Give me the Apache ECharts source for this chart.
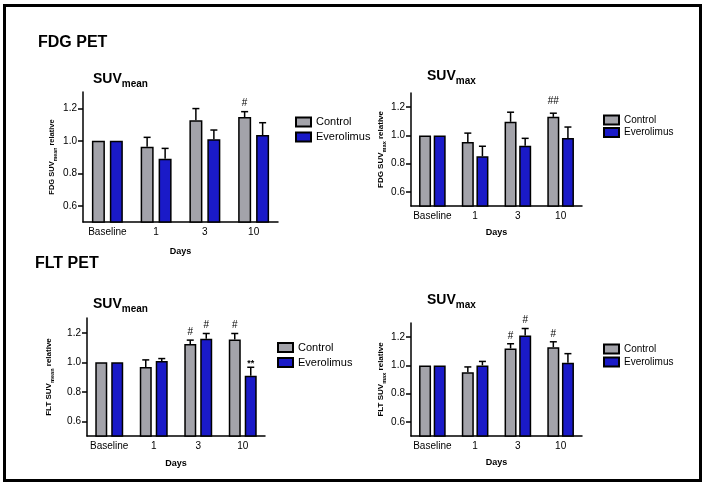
<!DOCTYPE html>
<html>
<head>
<meta charset="utf-8">
<script src="https://cdn.jsdelivr.net/npm/echarts@6/dist/echarts.min.js"></script>
<style>
html,body{margin:0;padding:0;background:#fff;}
#chart{width:707px;height:486px;}
</style>
</head>
<body>
<div id="chart"></div>
<script>
// ---- data ----
const categories = ['Baseline', '1', '3', '10'];
const yTicks = [0.6, 0.8, 1.0, 1.2];

// FDG PET SUVmean
const fdgMeanControl = [1.0, 0.963, 1.126, 1.146];
const fdgMeanControlErr = [0, 0.058, 0.072, 0.033];
const fdgMeanControlSig = ['', '', '', '#'];
const fdgMeanEvero = [1.0, 0.889, 1.010, 1.035];
const fdgMeanEveroErr = [0, 0.064, 0.056, 0.076];
const fdgMeanEveroSig = ['', '', '', ''];

// FDG PET SUVmax
const fdgMaxControl = [1.0, 0.953, 1.096, 1.131];
const fdgMaxControlErr = [0, 0.063, 0.068, 0.026];
const fdgMaxControlSig = ['', '', '', '##'];
const fdgMaxEvero = [1.0, 0.852, 0.927, 0.981];
const fdgMaxEveroErr = [0, 0.071, 0.052, 0.078];
const fdgMaxEveroSig = ['', '', '', ''];

// FLT PET SUVmean
const fltMeanControl = [1.0, 0.968, 1.123, 1.155];
const fltMeanControlErr = [0, 0.048, 0.027, 0.040];
const fltMeanControlSig = ['', '', '#', '#'];
const fltMeanEvero = [1.0, 1.009, 1.159, 0.909];
const fltMeanEveroErr = [0, 0.016, 0.036, 0.057];
const fltMeanEveroSig = ['', '', '#', '**'];

// FLT PET SUVmax
const fltMaxControl = [1.0, 0.951, 1.120, 1.129];
const fltMaxControlErr = [0, 0.038, 0.033, 0.038];
const fltMaxControlSig = ['', '', '#', '#'];
const fltMaxEvero = [1.0, 1.000, 1.212, 1.019];
const fltMaxEveroErr = [0, 0.028, 0.049, 0.064];
const fltMaxEveroSig = ['', '', '#', ''];

// ---- styles ----
const FONT = '"Liberation Sans", Arial, Helvetica, sans-serif';
const GREY = '#a3a3aa';
const BLUE = '#1a1ac8';

const panels = [
  { grid: {left: 83, top: 92, width: 195, height: 130}, yName: '{a|FDG SUV}{b|mean}{a| relative}', yNameSize: 7.5, yNameGap: 25, xNameGap: 25,
    ctrl: fdgMeanControl, ctrlErr: fdgMeanControlErr, ctrlSig: fdgMeanControlSig,
    ev: fdgMeanEvero, evErr: fdgMeanEveroErr, evSig: fdgMeanEveroSig,
    barWidth: 13, barGap: '38%', off: 9, sigGap: 3,
    legend: {left: 295, top: 115, font: 11, lh: 14, gap: 1} },
  { grid: {left: 411, top: 93, width: 171, height: 113}, yName: '{a|FDG SUV}{b|max}{a| relative}', yNameSize: 8, yNameGap: 24, xNameGap: 22,
    ctrl: fdgMaxControl, ctrlErr: fdgMaxControlErr, ctrlSig: fdgMaxControlSig,
    ev: fdgMaxEvero, evErr: fdgMaxEveroErr, evSig: fdgMaxEveroSig,
    barWidth: 12, barGap: '22%', off: 7.3, sigGap: 7,
    legend: {left: 603, top: 114, font: 10, lh: 12, gap: 0.5} },
  { grid: {left: 87, top: 318, width: 178, height: 118}, yName: '{a|FLT SUV}{b|mean}{a| relative}', yNameSize: 8, yNameGap: 32, xNameGap: 23,
    ctrl: fltMeanControl, ctrlErr: fltMeanControlErr, ctrlSig: fltMeanControlSig,
    ev: fltMeanEvero, evErr: fltMeanEveroErr, evSig: fltMeanEveroSig,
    barWidth: 12, barGap: '33%', off: 8, sigGap: 3,
    legend: {left: 277, top: 340.5, font: 11, lh: 14, gap: 1} },
  { grid: {left: 411, top: 323, width: 171, height: 113}, yName: '{a|FLT SUV}{b|max}{a| relative}', yNameSize: 8, yNameGap: 23, xNameGap: 22,
    ctrl: fltMaxControl, ctrlErr: fltMaxControlErr, ctrlSig: fltMaxControlSig,
    ev: fltMaxEvero, evErr: fltMaxEveroErr, evSig: fltMaxEveroSig,
    barWidth: 12, barGap: '22%', off: 7.3, sigGap: 3,
    legend: {left: 603, top: 343, font: 10, lh: 12, gap: 1} }
];

function errRenderer(values, errs, sigs, offset, sigGap) {
  return function (params, api) {
    const i = params.dataIndex;
    const base = api.coord([i, values[i]]);
    const top = api.coord([i, values[i] + errs[i]]);
    const x = base[0] + offset;
    const children = [];
    if (errs[i] > 0) {
      children.push({type: 'line', shape: {x1: x, y1: base[1], x2: x, y2: top[1]}, style: {stroke: '#000', lineWidth: 1.5}});
      children.push({type: 'line', shape: {x1: x - 3.5, y1: top[1], x2: x + 3.5, y2: top[1]}, style: {stroke: '#000', lineWidth: 1.5}});
    }
    if (sigs[i]) {
      const star = sigs[i] === '**';
      children.push({type: 'text', style: {x: x, y: top[1] - (star ? -1 : sigGap), text: sigs[i], fill: '#000',
        font: (star ? 'bold 9px ' : '10px ') + FONT, align: 'center', verticalAlign: 'bottom'}});
    }
    return {type: 'group', children: children};
  };
}

const grid = [], xAxis = [], yAxis = [], series = [], legend = [];
panels.forEach((p, k) => {
  grid.push(Object.assign({containLabel: false, outerBoundsMode: 'none'}, p.grid));
  xAxis.push({
    type: 'category', gridIndex: k, data: categories,
    axisLine: {lineStyle: {color: '#000', width: 1.5}},
    axisTick: {alignWithLabel: true, length: 5, lineStyle: {color: '#000', width: 1.5}},
    axisLabel: {color: '#000', fontSize: 10, fontFamily: FONT, margin: 5, interval: 0, hideOverlap: false},
    name: 'Days', nameLocation: 'middle', nameGap: p.xNameGap,
    nameTextStyle: {color: '#000', fontSize: 9, fontWeight: 'bold', fontFamily: FONT}
  });
  yAxis.push({
    type: 'value', gridIndex: k, min: 0.5, max: 1.3,
    splitLine: {show: false},
    axisLine: {show: true, lineStyle: {color: '#000', width: 1.5}},
    axisTick: {show: true, length: 5, customValues: yTicks, lineStyle: {color: '#000', width: 1.5}},
    axisLabel: {customValues: yTicks, color: '#000', fontSize: 10, fontFamily: FONT, margin: 6,
      formatter: v => v.toFixed(1)},
    name: p.yName, nameLocation: 'middle', nameRotate: 90, nameGap: p.yNameGap,
    nameTextStyle: {color: '#000', fontFamily: FONT,
      rich: {
        a: {fontSize: p.yNameSize, fontWeight: 'bold', fontFamily: FONT, color: '#000', lineHeight: 12},
        b: {fontSize: p.yNameSize * 0.7, fontWeight: 'bold', fontFamily: FONT, color: '#000', lineHeight: 5, verticalAlign: 'bottom'}
      }}
  });
  series.push({
    type: 'bar', name: 'Control', xAxisIndex: k, yAxisIndex: k, data: p.ctrl,
    barWidth: p.barWidth, barGap: p.barGap,
    itemStyle: {color: GREY, borderColor: '#000', borderWidth: 1.5}, z: 2
  });
  series.push({
    type: 'bar', name: 'Everolimus', xAxisIndex: k, yAxisIndex: k, data: p.ev,
    barWidth: p.barWidth, barGap: p.barGap,
    itemStyle: {color: BLUE, borderColor: '#000', borderWidth: 1.5}, z: 2
  });
  series.push({
    type: 'custom', name: 'ctrlErr' + k, xAxisIndex: k, yAxisIndex: k,
    data: categories.map((c, i) => [i, p.ctrl[i] + p.ctrlErr[i]]),
    renderItem: errRenderer(p.ctrl, p.ctrlErr, p.ctrlSig, -p.off, p.sigGap), z: 3, silent: true
  });
  series.push({
    type: 'custom', name: 'evErr' + k, xAxisIndex: k, yAxisIndex: k,
    data: categories.map((c, i) => [i, p.ev[i] + p.evErr[i]]),
    renderItem: errRenderer(p.ev, p.evErr, p.evSig, p.off, p.sigGap), z: 3, silent: true
  });
  legend.push({
    data: ['Control', 'Everolimus'], orient: 'vertical', left: p.legend.left, top: p.legend.top,
    padding: 0, itemGap: p.legend.gap, itemWidth: 15, itemHeight: 9, icon: 'rect',
    textStyle: {color: '#000', fontSize: p.legend.font, fontFamily: FONT, lineHeight: p.legend.lh},
    selectedMode: false
  });
});

function subTitle(x, y, main, sub) {
  return {type: 'text', x: x, y: y, style: {
    text: '{a|' + main + '}{b|' + sub + '}', verticalAlign: 'middle', align: 'left',
    rich: {
      a: {fontSize: 14, fontWeight: 'bold', fontFamily: FONT, fill: '#000', lineHeight: 20},
      b: {fontSize: 10, fontWeight: 'bold', fontFamily: FONT, fill: '#000', lineHeight: 8, verticalAlign: 'bottom'}
    }}};
}

const graphic = [
  {type: 'rect', shape: {x: 4.5, y: 5.5, width: 696, height: 475}, style: {fill: 'none', stroke: '#000', lineWidth: 3}, silent: true},
  {type: 'text', x: 38, y: 43, style: {text: 'FDG PET', font: 'bold 16px ' + FONT, fill: '#000', verticalAlign: 'middle'}},
  {type: 'text', x: 35, y: 264, style: {text: 'FLT PET', font: 'bold 16px ' + FONT, fill: '#000', verticalAlign: 'middle'}},
  subTitle(93, 79, 'SUV', 'mean'),
  subTitle(427, 76, 'SUV', 'max'),
  subTitle(93, 304, 'SUV', 'mean'),
  subTitle(427, 300, 'SUV', 'max')
];

const chart = echarts.init(document.getElementById('chart'), null, {renderer: 'canvas'});
chart.setOption({
  backgroundColor: '#fff',
  animation: false,
  grid: grid, xAxis: xAxis, yAxis: yAxis, series: series, legend: legend, graphic: graphic
});
</script>
</body>
</html>
